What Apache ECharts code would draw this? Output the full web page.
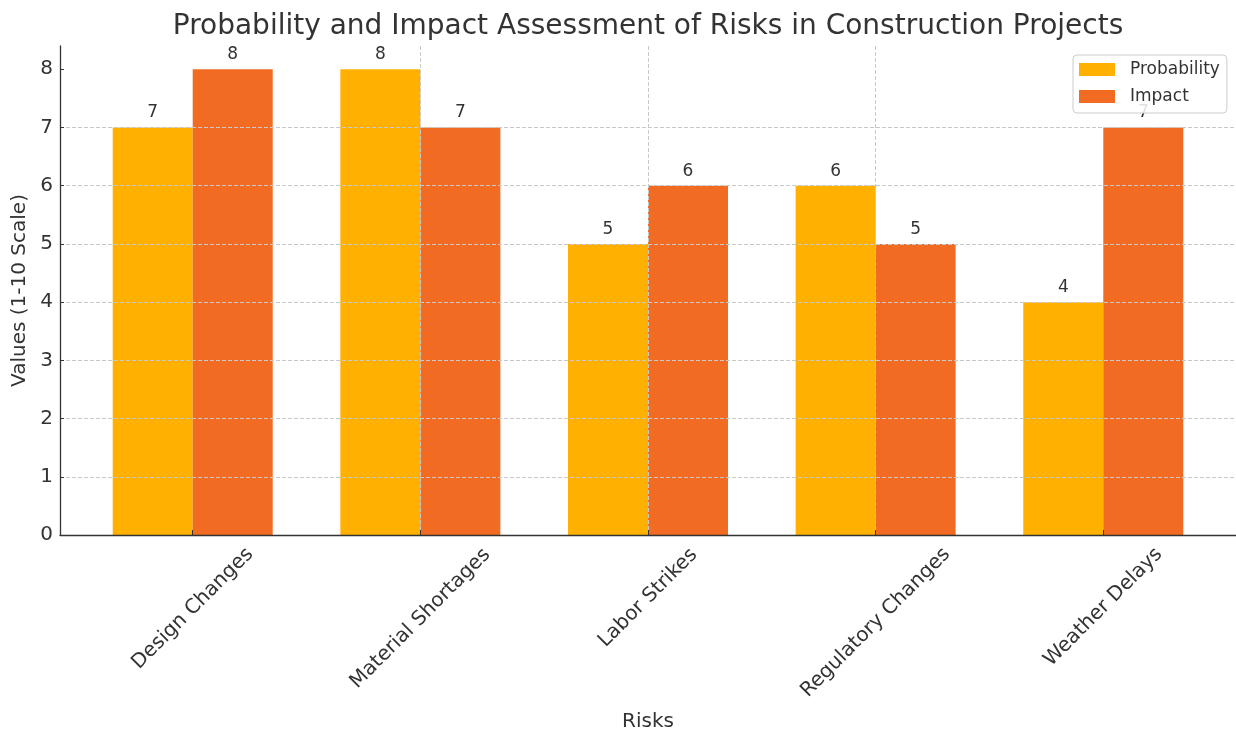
<!DOCTYPE html>
<html>
<head>
<meta charset="utf-8">
<script src="https://cdn.jsdelivr.net/npm/echarts@6/dist/echarts.min.js"></script>
<style>
  html, body { margin: 0; padding: 0; background: #fff; }
  #chart { width: 1236px; height: 731px; }
</style>
</head>
<body>
<div id="chart"></div>
<script>
// data
const categories = ['Design Changes', 'Material Shortages', 'Labor Strikes', 'Regulatory Changes', 'Weather Delays'];
const probability = [7, 8, 5, 6, 4];
const impact = [8, 7, 6, 5, 7];
const yTicks = [0, 1, 2, 3, 4, 5, 6, 7, 8];
const xTicks = [0, 1, 2, 3, 4];

const FONT = 'DejaVu Sans';
const textColor = '#333';

// measure text so rotated labels can be centred under their tick
let cv = document.createElement('canvas').getContext('2d');
function textWidth(s, size) {
    cv.font = size + 'px "' + FONT + '"';
    return cv.measureText(s).width;
}

let rich = {};
xTicks.forEach(function (i) {
    let L = textWidth(categories[i], 20);
    let dy = 10 + 0.354 * (L + 18);
    let p = Math.round(1.414 * dy);
    rich['c' + i] = { fontSize: 20, fontFamily: FONT, color: textColor, padding: [p, p, 0, 0] };
});

const titleText = 'Probability and Impact Assessment of Risks in Construction Projects';
const titleLeft = 648 - textWidth(titleText, 28) / 2;

const gridLine = { color: '#c8c8c8', type: [4, 2], width: 1 };

let myChart = echarts.init(document.getElementById('chart'));

let option = {
    animation: false,
    textStyle: { fontFamily: FONT },
    title: {
        text: titleText,
        left: titleLeft,
        top: 13,
        padding: 0,
        textStyle: { fontSize: 28, fontWeight: 'normal', color: textColor, fontFamily: FONT }
    },
    legend: {
        orient: 'vertical',
        left: 1073,
        top: 55,
        padding: [6, 7, 8, 6],
        itemGap: 10,
        itemWidth: 36,
        itemHeight: 13,
        icon: 'rect',
        zlevel: 2,
        borderColor: '#cccccc',
        borderWidth: 1,
        borderRadius: 4,
        backgroundColor: 'rgba(255,255,255,0.85)',
        textStyle: { fontSize: 17, lineHeight: 17, color: textColor, fontFamily: FONT, padding: [0, 0, 0, 10] },
        data: ['Probability', 'Impact']
    },
    grid: {
        left: 60,
        right: 0,
        top: 46,
        bottom: 196,
        containLabel: false,
        outerBoundsMode: 'none'
    },
    xAxis: {
        type: 'value',
        min: -0.583,
        max: 4.583,
        zlevel: 1,
        name: 'Risks',
        nameLocation: 'middle',
        nameGap: 177,
        nameTextStyle: { fontSize: 20, color: textColor, fontFamily: FONT },
        axisLine: { show: true, onZero: false, lineStyle: { color: '#333', width: 1.3 } },
        axisTick: { show: true, inside: true, length: 5, customValues: xTicks, lineStyle: { color: '#333' } },
        axisLabel: {
            customValues: xTicks,
            rotate: 45,
            margin: 0,
            align: 'center',
            verticalAlign: 'middle',
            hideOverlap: false,
            formatter: function (v) {
                return '{c' + v + '|' + categories[v] + '}';
            },
            rich: rich
        },
        splitLine: { show: true, showMinLine: false, showMaxLine: false, lineStyle: gridLine }
    },
    yAxis: {
        type: 'value',
        min: 0,
        max: 8.4,
        interval: 1,
        zlevel: 1,
        name: 'Values (1-10 Scale)',
        nameLocation: 'middle',
        nameGap: 30,
        nameTextStyle: { fontSize: 20, color: textColor, fontFamily: FONT },
        axisLine: { show: true, onZero: false, lineStyle: { color: '#333', width: 1.3 } },
        axisTick: { show: true, inside: true, length: 4, customValues: yTicks, lineStyle: { color: '#333' } },
        axisLabel: { customValues: yTicks, fontSize: 20, color: textColor, margin: 7, fontFamily: FONT },
        splitLine: { show: true, showMinLine: false, showMaxLine: false, lineStyle: gridLine }
    },
    series: [
        {
            name: 'Probability',
            type: 'bar',
            data: probability.map(function (v, i) { return [i, v]; }),
            barWidth: 80,
            barGap: '0%',
            itemStyle: { color: '#FFB000' },
            label: { show: true, position: 'top', distance: 6, fontSize: 17, color: textColor, fontFamily: FONT }
        },
        {
            name: 'Impact',
            type: 'bar',
            data: impact.map(function (v, i) { return [i, v]; }),
            barWidth: 80,
            barGap: '0%',
            itemStyle: { color: '#F26B22' },
            label: { show: true, position: 'top', distance: 6, fontSize: 17, color: textColor, fontFamily: FONT }
        }
    ]
};

myChart.setOption(option);
window.addEventListener('resize', function () {
    myChart.resize();
});
</script>
</body>
</html>
